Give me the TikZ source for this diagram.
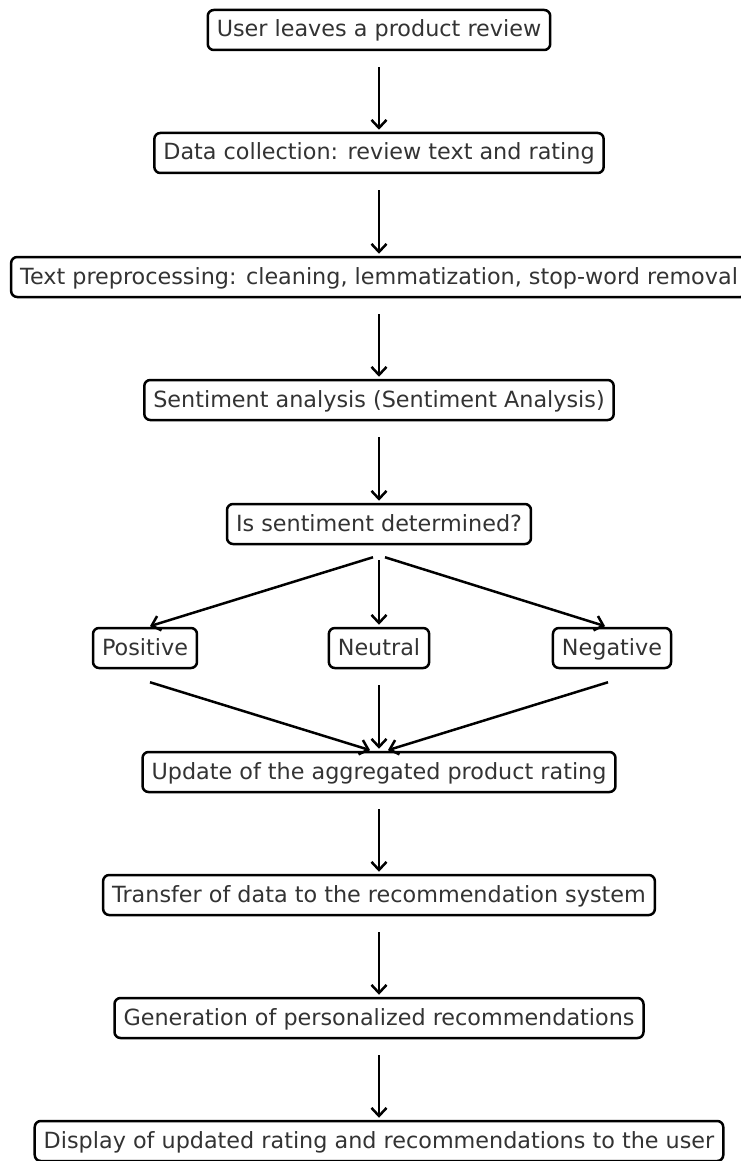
\documentclass[tikz,border=0pt]{standalone}
\usepackage{fontspec}
\setmainfont{DejaVu Sans}
\usetikzlibrary{arrows.meta}
\definecolor{txt}{HTML}{333333}
\begin{document}
\begin{tikzpicture}[x=1pt,y=-1pt,
  box/.style={draw=black, line width=2.5pt, rounded corners=6pt, fill=white, text=txt,
    font=\fontsize{22.3}{26}\selectfont, minimum height=40pt, inner xsep=9pt, inner ysep=0pt,
    text height=18pt, text depth=4pt},
  arr/.style={-{Straight Barb[length=8pt,width=15pt,line width=2.5pt]}, line width=2.5pt, shorten >=2pt}]
\useasboundingbox (0,0) rectangle (740,1161);
\node[box] (n1) at (379,30) {User leaves a product review};
\node[box] (n2) at (379,153) {Data collection: review text and rating};
\node[box] (n3) at (379,277) {Text preprocessing: cleaning, lemmatization, stop-word removal};
\node[box] (n4) at (379,400) {Sentiment analysis (Sentiment Analysis)};
\node[box] (n5) at (379,524) {Is sentiment determined?};
\node[box] (pos) at (145,648) {Positive};
\node[box] (neu) at (379,648) {Neutral};
\node[box] (neg) at (612,648) {Negative};
\node[box] (n6) at (379,772) {Update of the aggregated product rating};
\node[box] (n7) at (379,895) {Transfer of data to the recommendation system};
\node[box] (n8) at (379,1018) {Generation of personalized recommendations};
\node[box] (n9) at (379,1141) {Display of updated rating and recommendations to the user};
\foreach \a/\b in {n1/n2,n2/n3,n3/n4,n4/n5,n6/n7,n7/n8,n8/n9}
  \draw[arr] ([yshift=-16pt]\a.south) -- (\b.north);
\draw[arr] ([xshift=-6pt,yshift=-12pt]n5.south) -- ([xshift=3pt]pos.north);
\draw[arr] ([yshift=-15pt]n5.south) -- (neu.north);
\draw[arr] ([xshift=6pt,yshift=-12pt]n5.south) -- ([xshift=-5pt]neg.north);
\draw[arr] ([xshift=5pt,yshift=-13pt]pos.south) -- ([xshift=-7pt]n6.north);
\draw[arr] ([yshift=-16pt]neu.south) -- (n6.north);
\draw[arr] ([xshift=-4pt,yshift=-13pt]neg.south) -- ([xshift=7pt]n6.north);
\end{tikzpicture}
\end{document}
